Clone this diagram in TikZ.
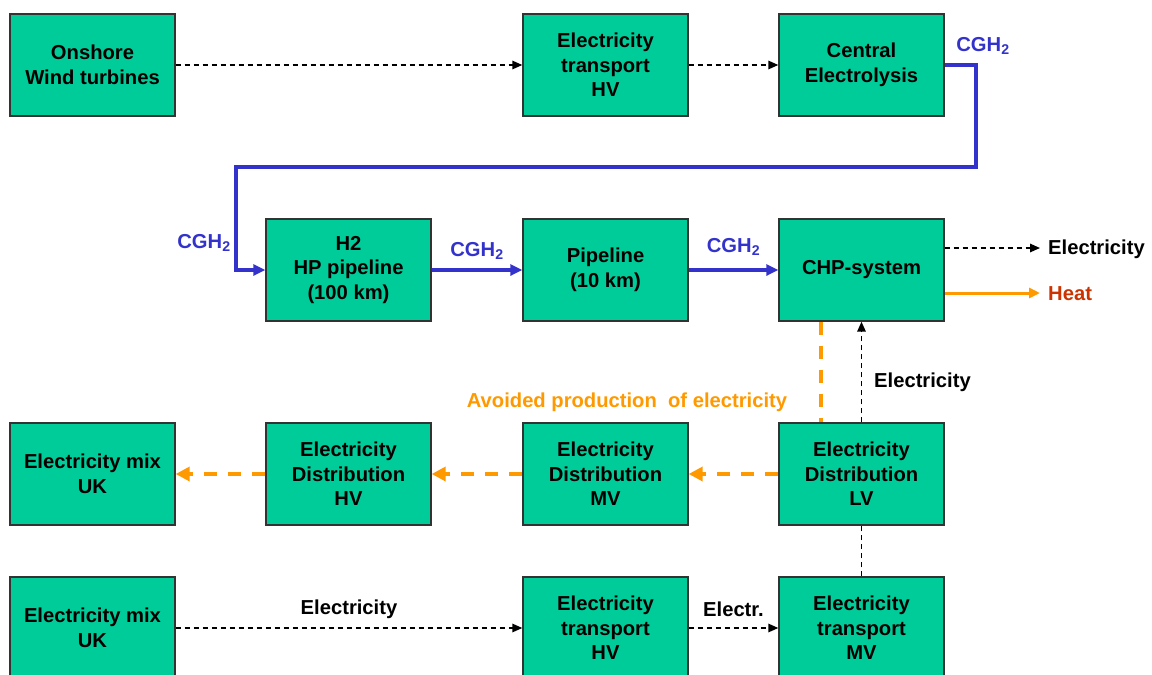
\documentclass[tikz,border=0pt]{standalone}
\usepackage{fontspec}
\setmainfont{Liberation Sans}
\usetikzlibrary{positioning, arrows.meta}

\definecolor{boxgreen}{RGB}{0,204,153}
\definecolor{hblue}{RGB}{51,51,204}
\definecolor{avorange}{RGB}{255,153,0}
\definecolor{heatred}{RGB}{204,51,0}

\begin{document}
\begin{tikzpicture}[
    x=1pt, y=-1pt,
    % Process boxes
    process_box/.style={rectangle, draw=black!80, fill=boxgreen, line width=1.4pt,
        minimum width=165pt, minimum height=102pt, align=center, inner sep=0pt,
        font=\fontsize{20.2}{24.5}\selectfont\bfseries},
    % Connection styles
    elec_flow/.style={-{Triangle[length=10pt, width=8.5pt]}, dash pattern=on 5pt off 4pt, line width=1.6pt, color=black},
    elec_plain/.style={dash pattern=on 5pt off 4pt, line width=1.6pt, color=black},
    h2_flow/.style={-{Triangle[length=12pt, width=11pt]}, line width=3.4pt, color=hblue},
    avoided_flow/.style={-{Triangle[length=14pt, width=14pt]}, dash pattern=on 13pt off 11pt, line width=4pt, color=avorange},
    avoided_plain/.style={dash pattern=on 13pt off 11pt, line width=4pt, color=avorange},
    heat_flow/.style={-{Triangle[length=11pt, width=10pt]}, line width=3pt, color=avorange},
    flow_label/.style={font=\fontsize{20.2}{24}\selectfont\bfseries, inner sep=1pt}
]
    \useasboundingbox (0,0) rectangle (1152,675);

    % --- ROW 1 ---
    \node[process_box] (onshore) at (92.5,65) {Onshore\\Wind turbines};
    \node[process_box] (transhvA) at (605.5,65) {Electricity\\transport\\HV};
    \node[process_box] (elys) at (861.5,65) {Central\\Electrolysis};

    \draw[elec_flow] (onshore) -- (transhvA);
    \draw[elec_flow] (transhvA) -- (elys);

    % --- ROW 2 ---
    \node[process_box] (h2pipe) at (348.5,270) {H2\\HP pipeline\\(100 km)};
    \node[process_box] (pipe) at (605.5,270) {Pipeline\\(10 km)};
    \node[process_box] (chp) at (861.5,270) {CHP-system};

    % Hydrogen loop from electrolysis
    \coordinate (loopR) at (976,167);
    \coordinate (loopL) at (236,167);
    \draw[h2_flow] (elys.east) -| (loopR) -- (loopL) |- (h2pipe.west);
    \node[flow_label, text=hblue] (cghA) at (983,46) {CGH\textsubscript{2}};
    \node[flow_label, text=hblue] (cghB) at (204,243) {CGH\textsubscript{2}};

    \draw[h2_flow] (h2pipe) -- (pipe) node[midway, above=8pt, flow_label, text=hblue] {CGH\textsubscript{2}};
    \draw[h2_flow] (pipe) -- (chp) node[midway, above=12pt, flow_label, text=hblue] {CGH\textsubscript{2}};

    % CHP outputs
    \coordinate (elecout) at (1040,248);
    \coordinate (heatout) at (1040,293);
    \draw[elec_flow] (chp.east |- elecout) -- (elecout);
    \draw[heat_flow] (chp.east |- heatout) -- (heatout);
    \node[flow_label, anchor=west] (elecoutlbl) at (1047,249) {Electricity};
    \node[flow_label, anchor=west, text=heatred] (heatlbl) at (1047,294) {Heat};

    % --- ROW 3 ---
    \node[process_box] (mixA) at (92.5,474) {Electricity mix\\UK};
    \node[process_box] (disthv) at (348.5,474) {Electricity\\Distribution\\HV};
    \node[process_box] (distmv) at (605.5,474) {Electricity\\Distribution\\MV};
    \node[process_box] (distlv) at (861.5,474) {Electricity\\Distribution\\LV};

    \draw[avoided_flow] (distlv) -- (distmv);
    \draw[avoided_flow] (distmv) -- (disthv);
    \draw[avoided_flow] (disthv) -- (mixA);

    % Between CHP and LV distribution
    \draw[avoided_plain] ([xshift=-40.5pt]chp.south) -- ([xshift=-40.5pt]distlv.north);
    \draw[elec_flow] (distlv.north) -- (chp.south);
    \node[flow_label, text=avorange] (avoidlbl) at (627,402) {Avoided production \ of electricity};
    \node[flow_label, anchor=west] (chpinlbl) at (873,382) {Electricity};

    % --- ROW 4 ---
    \node[process_box] (mixB) at (92.5,628) {Electricity mix\\UK};
    \node[process_box] (transhvB) at (605.5,628) {Electricity\\transport\\HV};
    \node[process_box] (transmv) at (861.5,628) {Electricity\\transport\\MV};

    \draw[elec_flow] (mixB) -- (transhvB)
        node[midway, above=8pt, flow_label] {Electricity};
    \draw[elec_flow] (transhvB) -- (transmv)
        node[midway, above=10pt, flow_label] {Electr.};
    \draw[elec_plain] (transmv) -- (distlv);

\end{tikzpicture}
\end{document}
